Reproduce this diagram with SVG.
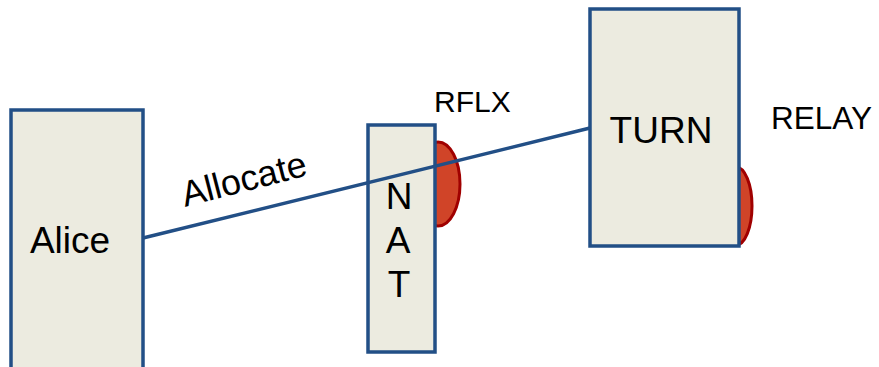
<svg xmlns="http://www.w3.org/2000/svg" width="879" height="367" viewBox="0 0 879 367">
<style>
.box{fill:#ecebe0;stroke:#224f86;stroke-width:3.5}
.port{fill:#d04428;stroke:#a00000;stroke-width:3}
.conn{stroke:#224f86;stroke-width:3.5;fill:none}
text{font-family:"Liberation Sans",Arial,sans-serif;fill:#000}
.big{font-size:37px}
</style>
<rect width="879" height="367" fill="#ffffff"/>
<g id="alice">
<rect class="box" x="11" y="110" width="132" height="270"/>
<text class="big" x="70" y="253" text-anchor="middle">Alice</text>
</g>
<g id="nat">
<ellipse class="port" cx="438" cy="184" rx="22" ry="42"/>
<rect class="box" x="368" y="125" width="67" height="227"/>
<text class="big" x="399" y="209" text-anchor="middle">N</text>
<text class="big" x="398" y="253" text-anchor="middle">A</text>
<text class="big" x="399" y="297" text-anchor="middle">T</text>
</g>
<g id="turn">
<ellipse class="port" cx="736" cy="206" rx="16" ry="39"/>
<rect class="box" x="590" y="9" width="149" height="237"/>
<text class="big" x="661" y="143" text-anchor="middle">TURN</text>
</g>
<text id="rflx" x="434" y="112" font-size="30">RFLX</text>
<text id="relay" x="771" y="129" font-size="31.5">RELAY</text>
<g id="connectors">
<line class="conn" x1="143" y1="238" x2="590" y2="128"/>
<text transform="translate(247,191) rotate(-14.5)" text-anchor="middle" font-size="36">Allocate</text>
</g>
</svg>
